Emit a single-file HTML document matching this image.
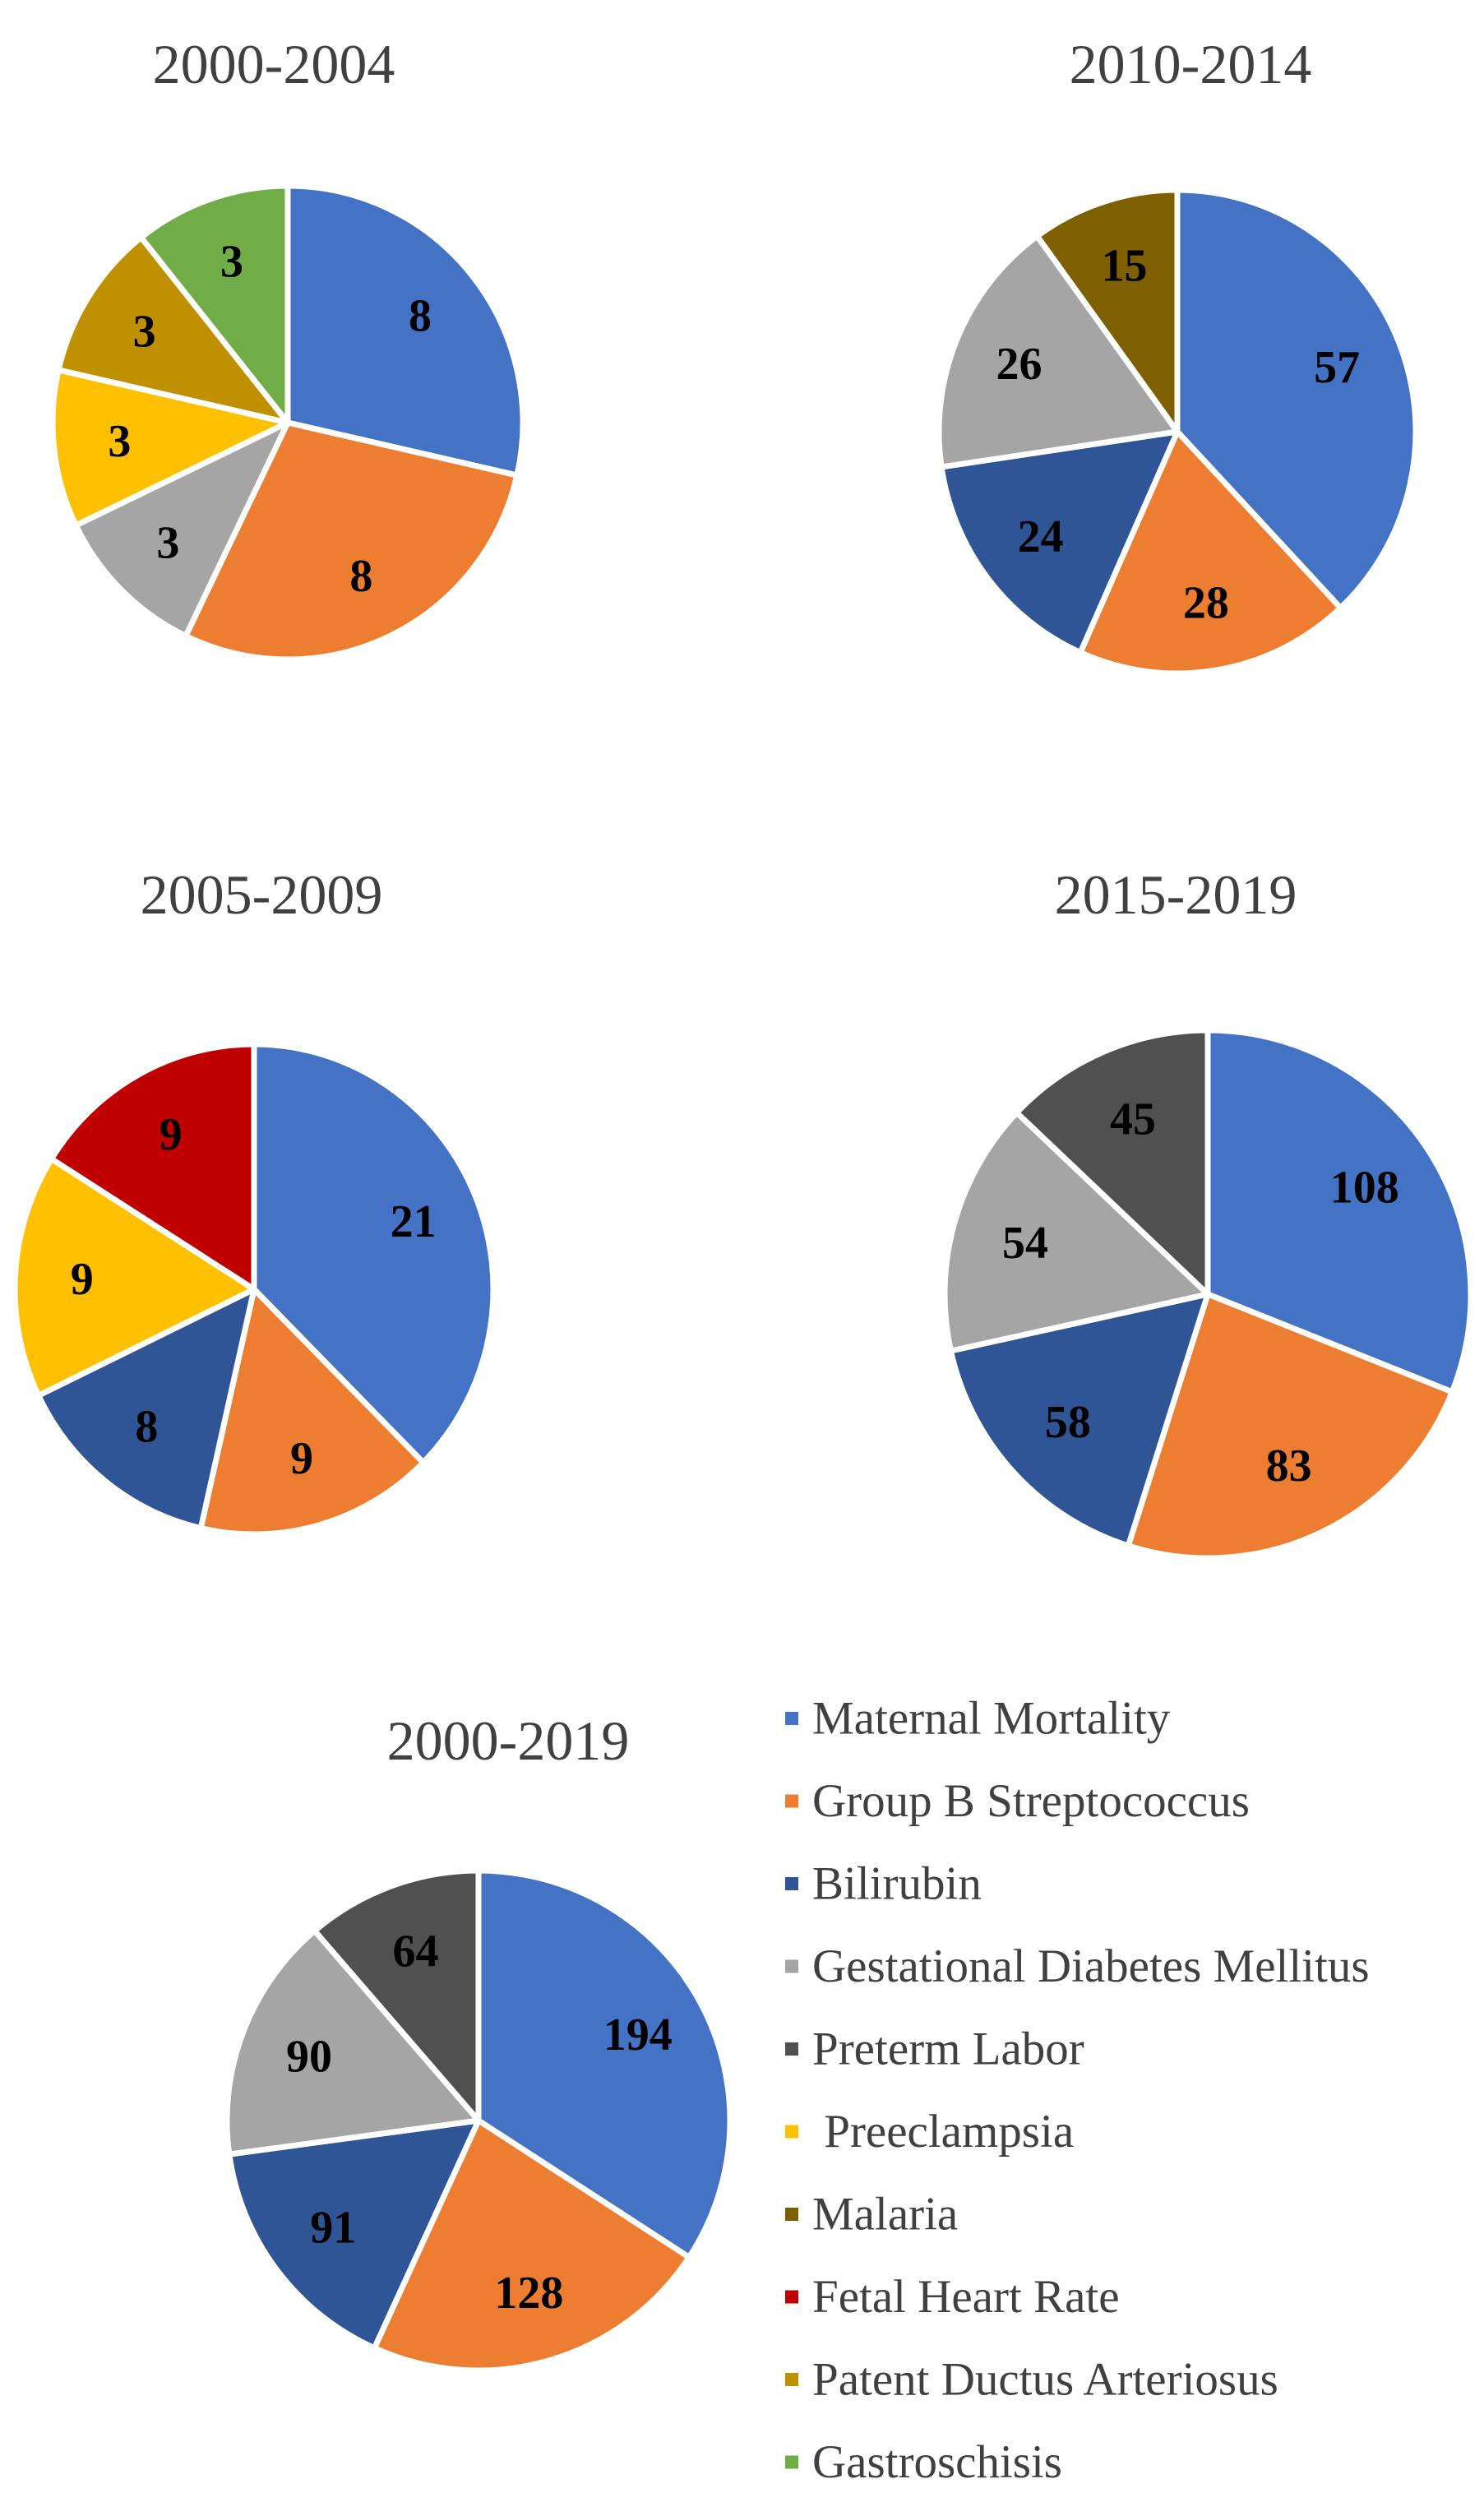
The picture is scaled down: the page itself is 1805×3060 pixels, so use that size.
<!DOCTYPE html>
<html><head><meta charset="utf-8"><style>
html,body{margin:0;padding:0;background:#fff;}
svg{display:block;}
.title{font-family:"Liberation Serif",serif;font-size:68px;fill:#404040;text-anchor:middle;}
.lbl{font-family:"Liberation Serif",serif;font-size:56px;font-weight:bold;fill:#000;text-anchor:middle;dominant-baseline:central;}
.leg{font-family:"Liberation Serif",serif;font-size:57px;fill:#404040;dominant-baseline:central;}
</style></head><body>
<svg id="chart" width="1805" height="3060" viewBox="0 0 1805 3060" xmlns="http://www.w3.org/2000/svg"></svg>
<script>
const categories = ["Maternal Mortality","Group B Streptococcus","Bilirubin","Gestational Diabetes Mellitus","Preterm Labor"," Preeclampsia","Malaria","Fetal Heart Rate","Patent Ductus Arteriosus","Gastroschisis"];
const colors = ["#4472C4","#ED7D31","#2F5597","#A5A5A5","#505050","#FFC000","#7F6000","#C00000","#BF9000","#70AD47"];
const titles = ["2000-2004","2010-2014","2005-2009","2015-2019","2000-2019"];
const cats2000_2004 = [0,1,3,5,8,9];
const vals2000_2004 = [8,8,3,3,3,3];
const cats2010_2014 = [0,1,2,3,6];
const vals2010_2014 = [57,28,24,26,15];
const cats2005_2009 = [0,1,2,5,7];
const vals2005_2009 = [21,9,8,9,9];
const cats2015_2019 = [0,1,2,3,4];
const vals2015_2019 = [108,83,58,54,45];
const cats2000_2019 = [0,1,2,3,4];
const vals2000_2019 = [194,128,91,90,64];

const NS="http://www.w3.org/2000/svg";
const svg=document.getElementById('chart');
function mk(tag,attrs){const e=document.createElementNS(NS,tag);for(const k in attrs)e.setAttribute(k,attrs[k]);return e;}

const layouts=[
 {cx:350,cy:514,rx:286,ry:288,tx:333,ty:78,cats:cats2000_2004,vals:vals2000_2004},
 {cx:1432,cy:525,rx:290,ry:294,tx:1448,ty:78,cats:cats2010_2014,vals:vals2010_2014},
 {cx:309,cy:1568,rx:291,ry:298,tx:318,ty:1088,cats:cats2005_2009,vals:vals2005_2009},
 {cx:1469,cy:1574,rx:320,ry:321,tx:1430,ty:1088,cats:cats2015_2019,vals:vals2015_2019},
 {cx:582,cy:2579,rx:306,ry:304,tx:618,ty:2117,cats:cats2000_2019,vals:vals2000_2019}
];

layouts.forEach((L,pi)=>{
  const g=mk('g',{});
  
  
  svg.appendChild(g);
  const t=mk('text',{x:L.tx,y:L.ty,class:'title','dominant-baseline':'central'});
  
  
  t.textContent=titles[pi];
  g.appendChild(t);
  const total=L.vals.reduce((a,b)=>a+b,0);
  let acc=0;
  L.vals.forEach((v,i)=>{
    const a0=acc/total*2*Math.PI; acc+=v; const a1=acc/total*2*Math.PI;
    const x0=L.cx+L.rx*Math.sin(a0), y0=L.cy-L.ry*Math.cos(a0);
    const x1=L.cx+L.rx*Math.sin(a1), y1=L.cy-L.ry*Math.cos(a1);
    const large=(a1-a0)>Math.PI?1:0;
    const p=mk('path',{d:`M${L.cx},${L.cy} L${x0},${y0} A${L.rx},${L.ry} 0 ${large} 1 ${x1},${y1} Z`,fill:colors[L.cats[i]],stroke:'#fff','stroke-width':7,'stroke-linejoin':'round'});
    
    
    g.appendChild(p);
    const am=(a0+a1)/2;
    const lx=L.cx+0.72*L.rx*Math.sin(am), ly=L.cy-0.72*L.ry*Math.cos(am);
    const tl=mk('text',{x:lx,y:ly,class:'lbl'});
    
    
    tl.textContent=v;
    g.appendChild(tl);
  });
});

const leg=mk('g',{});


svg.appendChild(leg);
categories.forEach((c,i)=>{
  const y=2090+i*100.5;
  const e=mk('g',{});
  
  
  leg.appendChild(e);
  const r=mk('rect',{x:955,y:y-8,width:16,height:16,fill:colors[i]});
  
  
  e.appendChild(r);
  const t=mk('text',{x:988,y:y,class:'leg'});
  
  
  t.setAttribute('xml:space','preserve');
  t.style.whiteSpace='pre';
  t.textContent=c;
  e.appendChild(t);
});
</script>
</body></html>
